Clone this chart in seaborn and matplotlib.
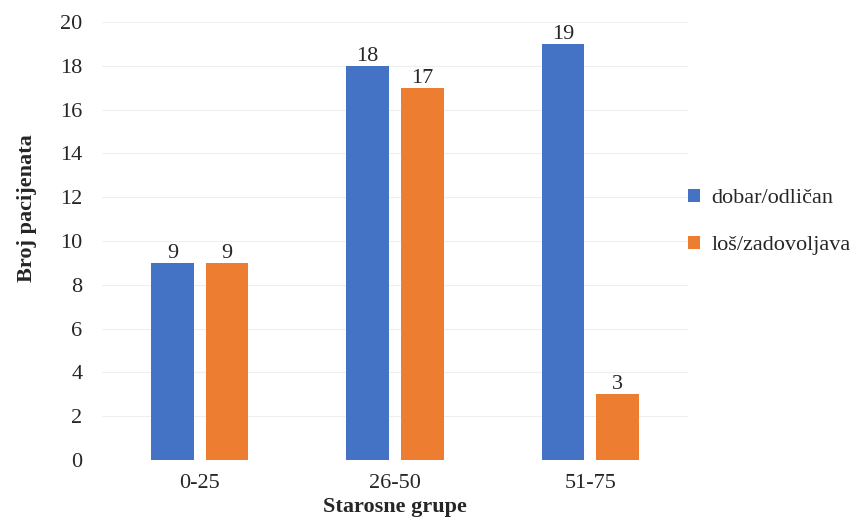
import pandas as pd
import matplotlib.pyplot as plt
import seaborn as sns

groups = ['0-25', '26-50', '51-75']
dobar = [9, 18, 19]
los = [9, 17, 3]
series_names = ['dobar/odličan', 'loš/zadovoljava']
colors = ['#4472C4', '#ED7D31']

df = pd.DataFrame({
    'grupa': groups * 2,
    'broj': dobar + los,
    'ocjena': [series_names[0]] * 3 + [series_names[1]] * 3,
})

sns.set_style('white')
plt.rcParams['font.family'] = ['Liberation Serif', 'DejaVu Serif']
fs = 16

fig = plt.figure(figsize=(8.65, 5.25), dpi=100)
ax = fig.add_axes([102 / 865, 1 - 460 / 525, (688 - 102) / 865, (460 - 22) / 525])

sns.barplot(data=df, x='grupa', y='broj', hue='ocjena', palette=colors,
            saturation=1, width=0.56, gap=0.22, linewidth=0, ax=ax, legend=True)

for c in ax.containers:
    ax.bar_label(c, fontsize=fs, padding=0)

ax.set_ylim(0, 20)
ax.set_xlim(-0.5, 2.5)
ax.set_yticks(range(0, 21, 2))
ax.yaxis.grid(True, color='#efefef', linewidth=0.8)
ax.set_axisbelow(True)
for s in ax.spines.values():
    s.set_visible(False)
ax.tick_params(axis='y', labelsize=fs, length=0, pad=14)
ax.tick_params(axis='x', labelsize=fs, length=0, pad=10)
ax.set_xlabel('Starosne grupe', fontsize=fs, fontweight='bold')
ax.set_ylabel('Broj pacijenata', fontsize=fs, fontweight='bold')
ax.xaxis.set_label_coords(0.5, -0.085)
ax.yaxis.set_label_coords(-0.111, 0.575)

ax.legend(loc='center left', bbox_to_anchor=(668 / 865, 1 - 222 / 525),
          bbox_transform=fig.transFigure, frameon=False, fontsize=fs,
          handlelength=0.55, handleheight=0.55, handletextpad=0.5, labelspacing=1.25)

fig.savefig('out.png', dpi=100)
